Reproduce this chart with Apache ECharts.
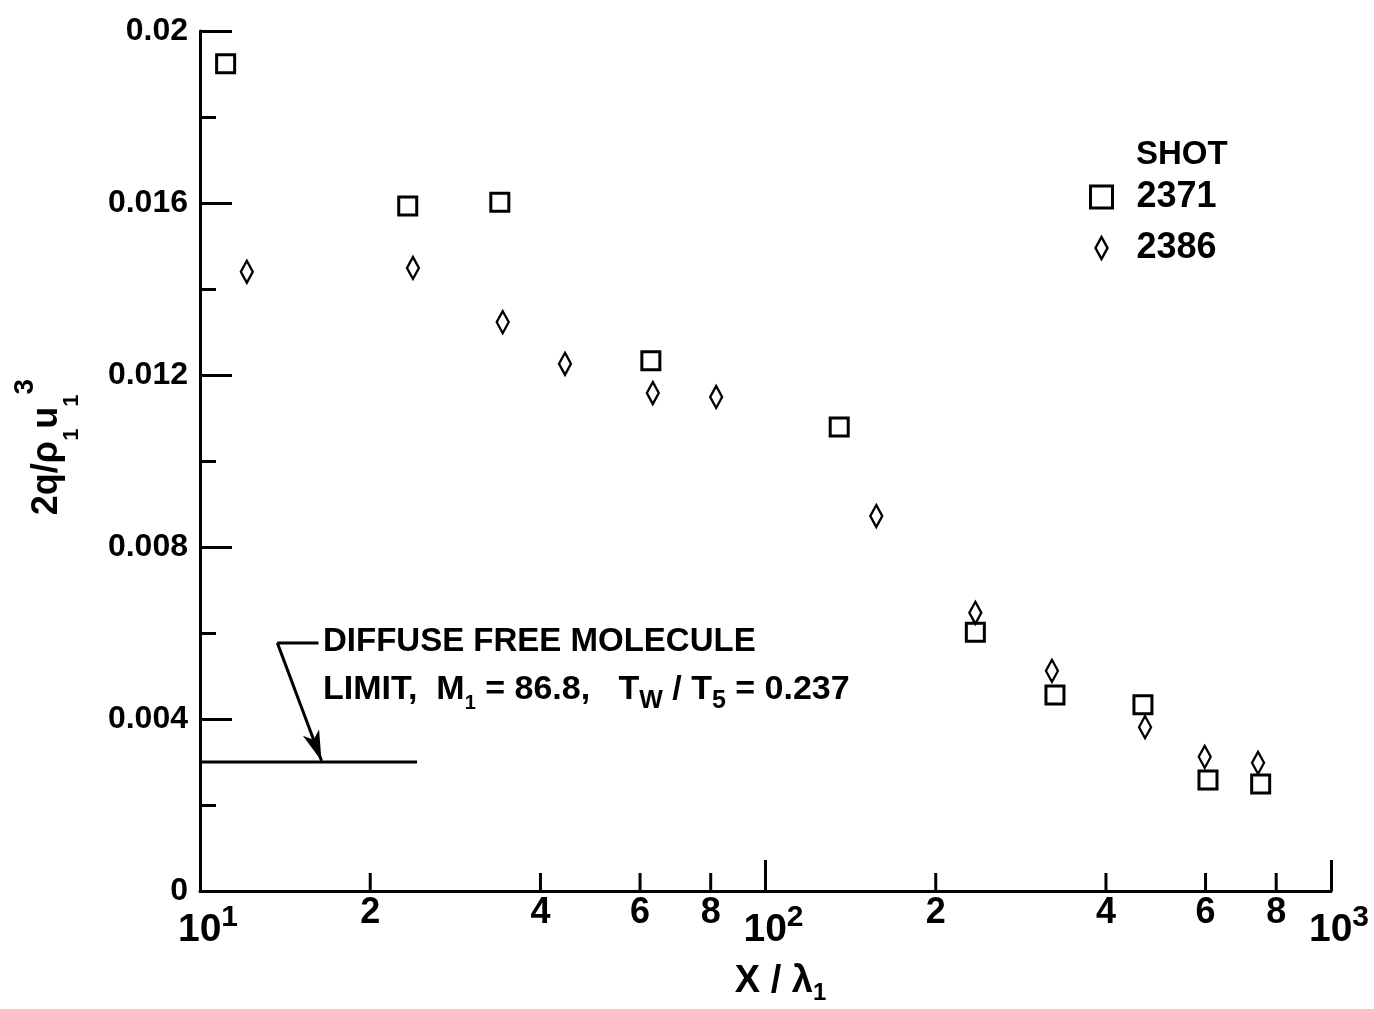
<!DOCTYPE html>
<html>
<head>
<meta charset="utf-8">
<title>2q/rho u^3 vs X/lambda</title>
<script src="https://cdn.jsdelivr.net/npm/echarts@6.0.0/dist/echarts.min.js"></script>
<style>
html, body { margin: 0; padding: 0; background: #fff; }
#chart { width: 1374px; height: 1009px; }
</style>
</head>
<body>
<div id="chart"></div>
<script>
// shot 2371 (squares)
var shot2371X = [11.1, 23.3, 33.9, 62.7, 135, 235, 325, 465, 606, 751];
var shot2371Y = [0.01924, 0.01593, 0.01602, 0.01233, 0.01079, 0.00602, 0.00456, 0.00433, 0.00258, 0.00249];
// shot 2386 (diamonds)
var shot2386X = [12.1, 23.8, 34.3, 44.2, 63.2, 81.8, 157, 235, 321, 469, 598, 743];
var shot2386Y = [0.0144, 0.01449, 0.01323, 0.01226, 0.01158, 0.01149, 0.00872, 0.00647, 0.00512, 0.00381, 0.00312, 0.00298];

// diffuse free molecule limit
var limitX = [10, 24.2];
var limitY = [0.003, 0.003];
// leader: text end -> elbow -> arrow tip
var leaderX = [16.2, 13.7, 16.4];
var leaderY = [0.00577, 0.00577, 0.00303];

// minor x ticks
var xMinorTicks = [20, 40, 60, 80, 200, 400, 600, 800];
var xMinorText = ['2', '4', '6', '8', '2', '4', '6', '8'];

var FONT = 'Liberation Sans';

function zip(xs, ys) {
    var out = [];
    for (var i = 0; i < xs.length; i++) out.push([xs[i], ys[i]]);
    return out;
}

// plain black bold text piece for rich labels
function txt(size, lh, va) {
    var s = { fontFamily: FONT, fontWeight: 'bold', fontSize: size, lineHeight: lh, color: '#000',
              textBorderWidth: 0, textShadowBlur: 0 };
    if (va) s.verticalAlign = va;
    return s;
}

var myChart = echarts.init(document.getElementById('chart'));

var option = {
    backgroundColor: '#fff',
    animation: false,
    textStyle: { fontFamily: FONT, fontWeight: 'bold', color: '#000' },
    title: {
        text: 'SHOT',
        left: 1131,
        top: 133,
        textStyle: { fontFamily: FONT, fontWeight: 'bold', fontSize: 33, color: '#000' }
    },
    legend: {
        orient: 'vertical',
        left: 1084,
        top: 174,
        itemWidth: 60,
        itemHeight: 22,
        itemGap: 15,
        symbolKeepAspect: true,
        textStyle: { fontFamily: FONT, fontWeight: 'bold', fontSize: 36, color: '#000' },
        data: [
            { name: '2371', icon: 'path://M0,0 L10,0 L10,10 L0,10 Z',
              itemStyle: { color: '#fff', borderColor: '#000', borderWidth: 3 } },
            { name: '2386', icon: 'path://M6,0 L12,11 L6,22 L0,11 Z',
              itemStyle: { color: '#fff', borderColor: '#000', borderWidth: 2.5 } }
        ]
    },
    grid: {
        left: 200,
        right: 43,
        top: 31,
        bottom: 118,
        containLabel: false,
        outerBoundsMode: 'none'
    },
    xAxis: {
        type: 'log',
        logBase: 10,
        min: 10,
        max: 1000,
        name: '{a|X / λ}{s|1}',
        nameLocation: 'middle',
        nameGap: 68,
        nameTextStyle: {
            padding: [0, 0, 0, 30],
            rich: { a: txt(38, 46), s: txt(24, 22, 'bottom') }
        },
        axisLine: { lineStyle: { color: '#000', width: 3 } },
        axisTick: { inside: true, length: 31, lineStyle: { color: '#000', width: 3 } },
        splitLine: { show: false },
        axisLabel: {
            margin: 12,
            padding: [0, 0, 0, 16],
            formatter: function (v) {
                var p = Math.round(Math.log(v) / Math.LN10);
                return '{b|10}{p|' + p + '}';
            },
            rich: { b: txt(39, 54), p: txt(30, 30, 'top') }
        }
    },
    yAxis: {
        type: 'value',
        min: 0,
        max: 0.02,
        interval: 0.004,
        name: '{a|2q/ρ}{s|1}{a|u}{s|1}{p|3}',
        nameLocation: 'middle',
        nameRotate: 90,
        nameGap: 117,
        nameTextStyle: {
            padding: [0, 0, 0, 28],
            rich: { a: txt(36, 72), s: txt(22, 22, 'bottom'), p: txt(28, 26, 'top') }
        },
        axisLine: { show: true, lineStyle: { color: '#000', width: 3 } },
        axisTick: { inside: true, length: 32, lineStyle: { color: '#000', width: 3 } },
        minorTick: { show: true, splitNumber: 2, length: 16, lineStyle: { color: '#000', width: 3 } },
        splitLine: { show: false },
        minorSplitLine: { show: false },
        axisLabel: {
            margin: 12,
            fontFamily: FONT,
            fontWeight: 'bold',
            fontSize: 32,
            color: '#000',
            formatter: function (v) {
                return v === 0 ? '0' : String(+v.toFixed(3));
            }
        }
    },
    series: [
        {
            name: '2371',
            type: 'scatter',
            symbol: 'rect',
            symbolSize: 18,
            itemStyle: { color: '#fff', borderColor: '#000', borderWidth: 3, opacity: 1 },
            data: zip(shot2371X, shot2371Y),
            z: 5
        },
        {
            name: '2386',
            type: 'scatter',
            symbol: 'diamond',
            symbolSize: [12, 22],
            itemStyle: { color: '#fff', borderColor: '#000', borderWidth: 2.5, opacity: 1 },
            data: zip(shot2386X, shot2386Y),
            z: 5
        },
        {
            name: 'limit',
            type: 'line',
            symbol: 'none',
            silent: true,
            lineStyle: { color: '#000', width: 3 },
            data: zip(limitX, limitY)
        },
        {
            name: 'leader',
            type: 'line',
            symbol: 'none',
            silent: true,
            lineStyle: { color: '#000', width: 3 },
            data: zip(leaderX.slice(0, 2), leaderY.slice(0, 2)),
            markLine: {
                silent: true,
                symbol: ['none', 'arrow'],
                symbolSize: [13, 30],
                label: { show: false },
                lineStyle: { color: '#000', width: 3, type: 'solid' },
                data: [[
                    { coord: [leaderX[1], leaderY[1]] },
                    { coord: [leaderX[2], leaderY[2]] }
                ]]
            }
        },
        {
            name: 'note',
            type: 'scatter',
            symbolSize: 1,
            silent: true,
            emphasis: { disabled: true },
            itemStyle: { color: 'rgba(255,255,255,0)', opacity: 1 },
            data: [[leaderX[0], leaderY[0]]],
            label: {
                show: true,
                position: 'right',
                distance: 4,
                offset: [0, 23],
                color: '#000',
                opacity: 1,
                textBorderWidth: 0,
                formatter: '{a|DIFFUSE FREE MOLECULE}\n{b|LIMIT,  M}{s|1}{b| = 86.8,   T}{t|W}{b| / T}{t|5}{b| = 0.237}',
                rich: {
                    a: txt(33, 48),
                    b: txt(34, 48),
                    s: txt(20, 24, 'bottom'),
                    t: txt(25, 22, 'bottom')
                }
            },
            z: 6
        },
        {
            name: 'xticks',
            type: 'scatter',
            symbol: 'rect',
            symbolSize: [3, 18],
            symbolOffset: [0, -9],
            silent: true,
            clip: false,
            emphasis: { disabled: true },
            itemStyle: { color: '#000', opacity: 1 },
            data: zip(xMinorTicks, xMinorTicks.map(function () { return 0; })),
            label: {
                show: true,
                position: 'bottom',
                distance: 4,
                fontFamily: FONT,
                fontWeight: 'bold',
                fontSize: 36,
                color: '#000',
                opacity: 1,
                textBorderWidth: 0,
                formatter: function (p) { return xMinorText[p.dataIndex]; }
            }
        }
    ]
};

myChart.setOption(option);
</script>
</body>
</html>
